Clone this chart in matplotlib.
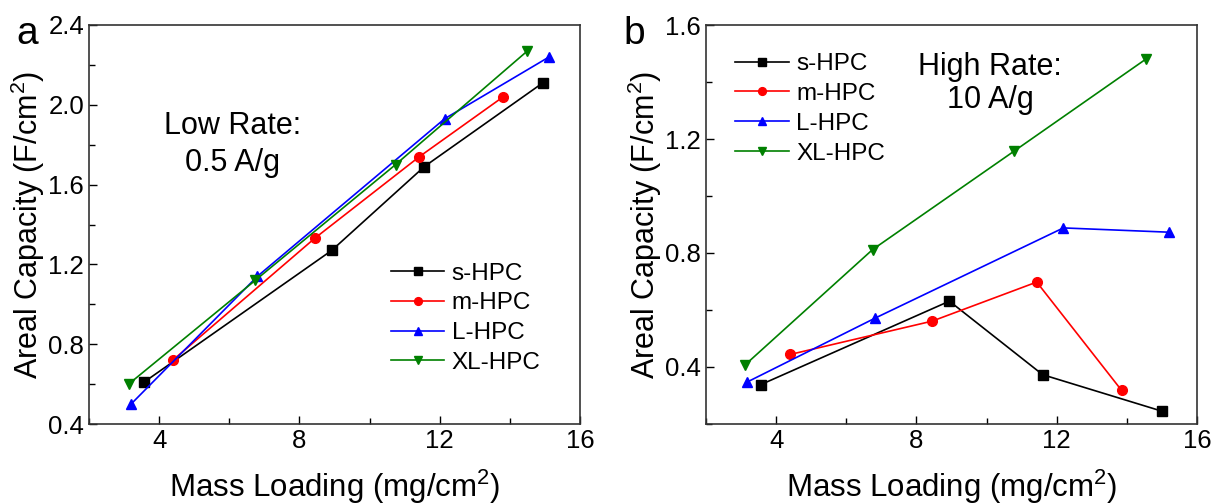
import matplotlib
matplotlib.use("Agg")
import matplotlib.pyplot as plt
from matplotlib.ticker import MultipleLocator, FormatStrFormatter

plt.rcParams['font.family'] = ['Liberation Sans', 'DejaVu Sans']
plt.rcParams['mathtext.fontset'] = 'custom'
plt.rcParams['mathtext.rm'] = 'Liberation Sans'

names = ["s-HPC", "m-HPC", "L-HPC", "XL-HPC"]
colors = ["black", "red", "blue", "green"]
markers = ["s", "o", "^", "v"]

# panel a: low rate 0.5 A/g
low_x = {
    "s-HPC": [3.57, 8.92, 11.56, 14.94],
    "m-HPC": [4.39, 8.43, 11.42, 13.81],
    "L-HPC": [3.20, 6.80, 12.14, 15.12],
    "XL-HPC": [3.13, 6.74, 10.74, 14.50],
}
low_y = {
    "s-HPC": [0.61, 1.27, 1.69, 2.11],
    "m-HPC": [0.72, 1.33, 1.74, 2.04],
    "L-HPC": [0.50, 1.14, 1.93, 2.24],
    "XL-HPC": [0.60, 1.12, 1.70, 2.27],
}

# panel b: high rate 10 A/g
high_x = {
    "s-HPC": [3.56, 8.94, 11.60, 15.00],
    "m-HPC": [4.40, 8.45, 11.43, 13.85],
    "L-HPC": [3.17, 6.83, 12.19, 15.20],
    "XL-HPC": [3.12, 6.75, 10.78, 14.55],
}
high_y = {
    "s-HPC": [0.338, 0.631, 0.373, 0.245],
    "m-HPC": [0.444, 0.561, 0.698, 0.318],
    "L-HPC": [0.347, 0.572, 0.888, 0.873],
    "XL-HPC": [0.408, 0.812, 1.157, 1.481],
}

fig = plt.figure(figsize=(12.12, 5.04), dpi=100)
ax1 = fig.add_axes([89/1212, 1-424/504, 491/1212, 399/504])
ax2 = fig.add_axes([706/1212, 1-424/504, 491/1212, 399/504])

for ax, xs, ys in [(ax1, low_x, low_y), (ax2, high_x, high_y)]:
    for n, c, m in zip(names, colors, markers):
        ax.plot(xs[n], ys[n], color=c, marker=m, markersize=7, lw=1.2, label=n)
    ax.set_xlim(2, 16)
    ax.xaxis.set_major_locator(MultipleLocator(4))
    ax.xaxis.set_minor_locator(MultipleLocator(2))
    ax.yaxis.set_minor_locator(MultipleLocator(0.2))
    ax.yaxis.set_major_formatter(FormatStrFormatter('%.1f'))
    ax.tick_params(which='both', direction='in', labelsize=18.5, top=False, right=False)
    ax.tick_params(which='major', length=6, width=1)
    ax.tick_params(which='minor', length=4, width=1)
    ax.set_xlabel(r"Mass Loading (mg/cm$^2$)", fontsize=22.5, labelpad=11)
    ax.set_ylabel(r"Areal Capacity (F/cm$^2$)", fontsize=22, labelpad=1)
    for s in ax.spines.values():
        s.set_linewidth(1.2)
        s.set_color('#333333')

ax1.set_ylim(0.4, 2.4)
ax1.yaxis.set_major_locator(MultipleLocator(0.4))
ax2.set_ylim(0.2, 1.6)
ax2.set_yticks([0.4, 0.8, 1.2, 1.6])

ax1.text(6.1, 1.8, "Low Rate:\n0.5 A/g", fontsize=22, ha='center', va='center', linespacing=1.3)
ax2.text(10.1, 1.395, "High Rate:\n10 A/g", fontsize=22, ha='center', va='center', linespacing=1.1)

fig.text(27/1212, 1-34/504, "a", fontsize=28, ha='center', va='center')
fig.text(634/1212, 1-34/504, "b", fontsize=28, ha='center', va='center')

ax1.legend(loc='upper left', bbox_to_anchor=(0.59, 0.435), frameon=False, fontsize=17.5,
           handlelength=2.2, handletextpad=0.3, labelspacing=0.32, markerscale=0.8, borderpad=0)
ax2.legend(loc='upper left', bbox_to_anchor=(0.035, 0.96), frameon=False, fontsize=17.5,
           handlelength=2.2, handletextpad=0.3, labelspacing=0.32, markerscale=0.8, borderpad=0)

fig.savefig("out.png", dpi=100)
